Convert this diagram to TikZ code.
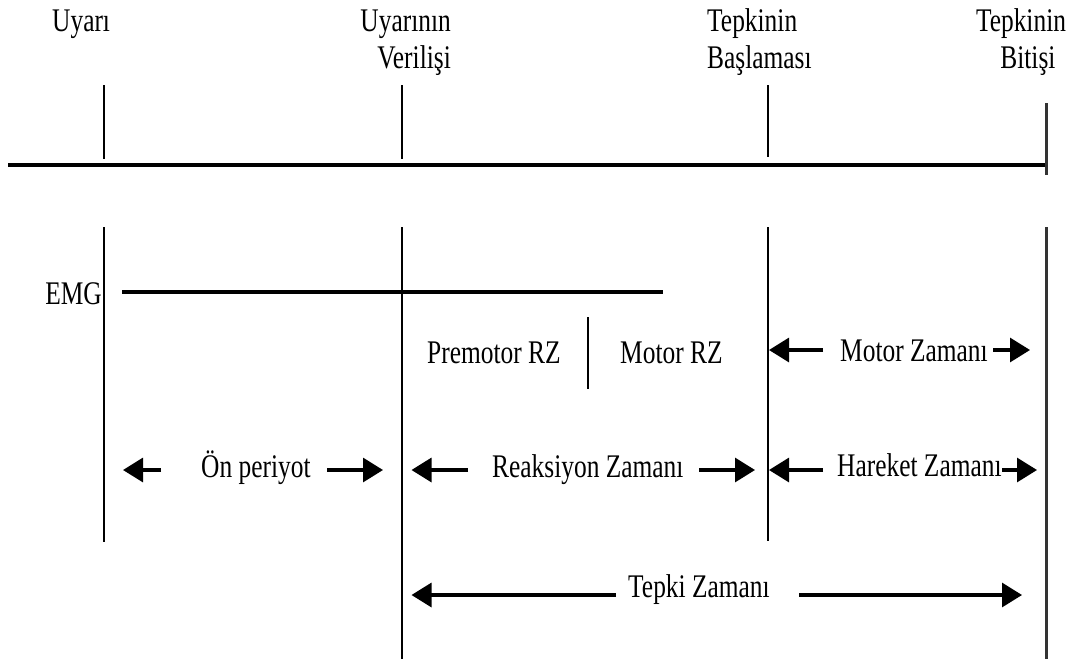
\documentclass[tikz,border=0pt]{standalone}
\usepackage{fontspec}
\usepackage{graphicx}
\setmainfont{Liberation Serif}
\usetikzlibrary{arrows.meta}
\newcommand{\sx}[1]{\scalebox{0.77}[1]{#1}}
\begin{document}
\begin{tikzpicture}[x=1pt,y=-1pt,
  lbl/.style={inner sep=0pt, font=\fontsize{33}{37}\selectfont},
  mainline/.style={line width=3.4pt},
  vline/.style={line width=2.7pt},
  vthin/.style={line width=2.1pt},
  arr/.style={line width=3.1pt, -{Triangle[length=20pt,width=24pt]}}]
\fill[white] (0,0) rectangle (1075,659);
\useasboundingbox (0,0) rectangle (1075,659);

% ---------- top labels ----------
\node[lbl, anchor=base west] (uyari) at (52,31) {\sx{Uyarı}};
\node[lbl, anchor=base east] (verilis) at (451,31) {\sx{\begin{tabular}[t]{@{}r@{}}Uyarının\\Verilişi\end{tabular}}};
\node[lbl, anchor=base west] (basl) at (707,31) {\sx{\begin{tabular}[t]{@{}l@{}}Tepkinin\\Başlaması\end{tabular}}};
\node[lbl, anchor=base] (bitis) at (1021,31) {\sx{\begin{tabular}[t]{@{}c@{}}Tepkinin\\\hspace*{18pt}Bitişi\end{tabular}}};

% ---------- time axis ----------
\coordinate (axL) at (8,165);
\coordinate (axR) at (1047,165);
\draw[mainline] (axL) -- (axR);

\coordinate (t1a) at (104,85);   \coordinate (t1b) at (104,159);
\coordinate (t2a) at (402,85);   \coordinate (t2b) at (402,159);
\coordinate (t3a) at (768,85);   \coordinate (t3b) at (768,157);
\coordinate (t4a) at (1046.5,103); \coordinate (t4b) at (1046.5,175);
\draw[vline] (t1a) -- (t1b);
\draw[vline] (t2a) -- (t2b);
\draw[vthin] (t3a) -- (t3b);
\draw[vthin, black!80] (t4a) -- (t4b);

% ---------- lower verticals ----------
\coordinate (l1a) at (104,227);   \coordinate (l1b) at (104,542);
\coordinate (l2a) at (402,227);   \coordinate (l2b) at (402,659);
\coordinate (l3a) at (768,227);   \coordinate (l3b) at (768,541);
\coordinate (l4a) at (1046.5,227); \coordinate (l4b) at (1046.5,659);
\draw[vline] (l1a) -- (l1b);
\draw[vline] (l2a) -- (l2b);
\draw[vthin] (l3a) -- (l3b);
\draw[vthin, black!80] (l4a) -- (l4b);

% ---------- EMG ----------
\node[lbl, anchor=base east] (emg) at (102,304) {\sx{EMG}};
\coordinate (emgA) at (122,292);
\coordinate (emgB) at (663,292);
\draw[mainline] (emgA) -- (emgB);

% ---------- Premotor / Motor RZ ----------
\node[lbl, anchor=base west] (prem) at (427,363) {\sx{Premotor RZ}};
\node[lbl, anchor=base west] (motrz) at (620,363) {\sx{Motor RZ}};
\coordinate (divA) at (588,317);
\coordinate (divB) at (588,389);
\draw[vline] (divA) -- (divB);

% ---------- Motor Zamani ----------
\node[lbl, anchor=base west] (motz) at (840,361) {\sx{Motor Zamanı}};
\coordinate (mzLt) at (823,350); \coordinate (mzLh) at (769,350);
\coordinate (mzRt) at (993,350); \coordinate (mzRh) at (1030,350);
\draw[arr] (mzLt) -- (mzLh);
\draw[arr] (mzRt) -- (mzRh);

% ---------- On periyot ----------
\node[lbl, anchor=base west] (onp) at (201,477) {\sx{Ön periyot}};
\coordinate (opLt) at (161,470); \coordinate (opLh) at (123,470);
\coordinate (opRt) at (327,470); \coordinate (opRh) at (383,470);
\draw[arr] (opLt) -- (opLh);
\draw[arr] (opRt) -- (opRh);

% ---------- Reaksiyon Zamani ----------
\node[lbl, anchor=base west] (reak) at (492,477) {\sx{Reaksiyon Zamanı}};
\coordinate (rzLt) at (468,470); \coordinate (rzLh) at (411.5,470);
\coordinate (rzRt) at (699,470); \coordinate (rzRh) at (755,470);
\draw[arr] (rzLt) -- (rzLh);
\draw[arr] (rzRt) -- (rzRh);

% ---------- Hareket Zamani ----------
\node[lbl, anchor=base west] (har) at (837,476) {\sx{Hareket Zamanı}};
\coordinate (hzLt) at (823,470); \coordinate (hzLh) at (769,470);
\coordinate (hzRt) at (1002,470); \coordinate (hzRh) at (1037,470);
\draw[arr] (hzLt) -- (hzLh);
\draw[arr] (hzRt) -- (hzRh);

% ---------- Tepki Zamani ----------
\node[lbl, anchor=base west] (tepki) at (628,597) {\sx{Tepki Zamanı}};
\coordinate (tzLt) at (616,595); \coordinate (tzLh) at (411.5,595);
\coordinate (tzRt) at (799,595); \coordinate (tzRh) at (1022,595);
\draw[arr] (tzLt) -- (tzLh);
\draw[arr] (tzRt) -- (tzRh);
\end{tikzpicture}
\end{document}
